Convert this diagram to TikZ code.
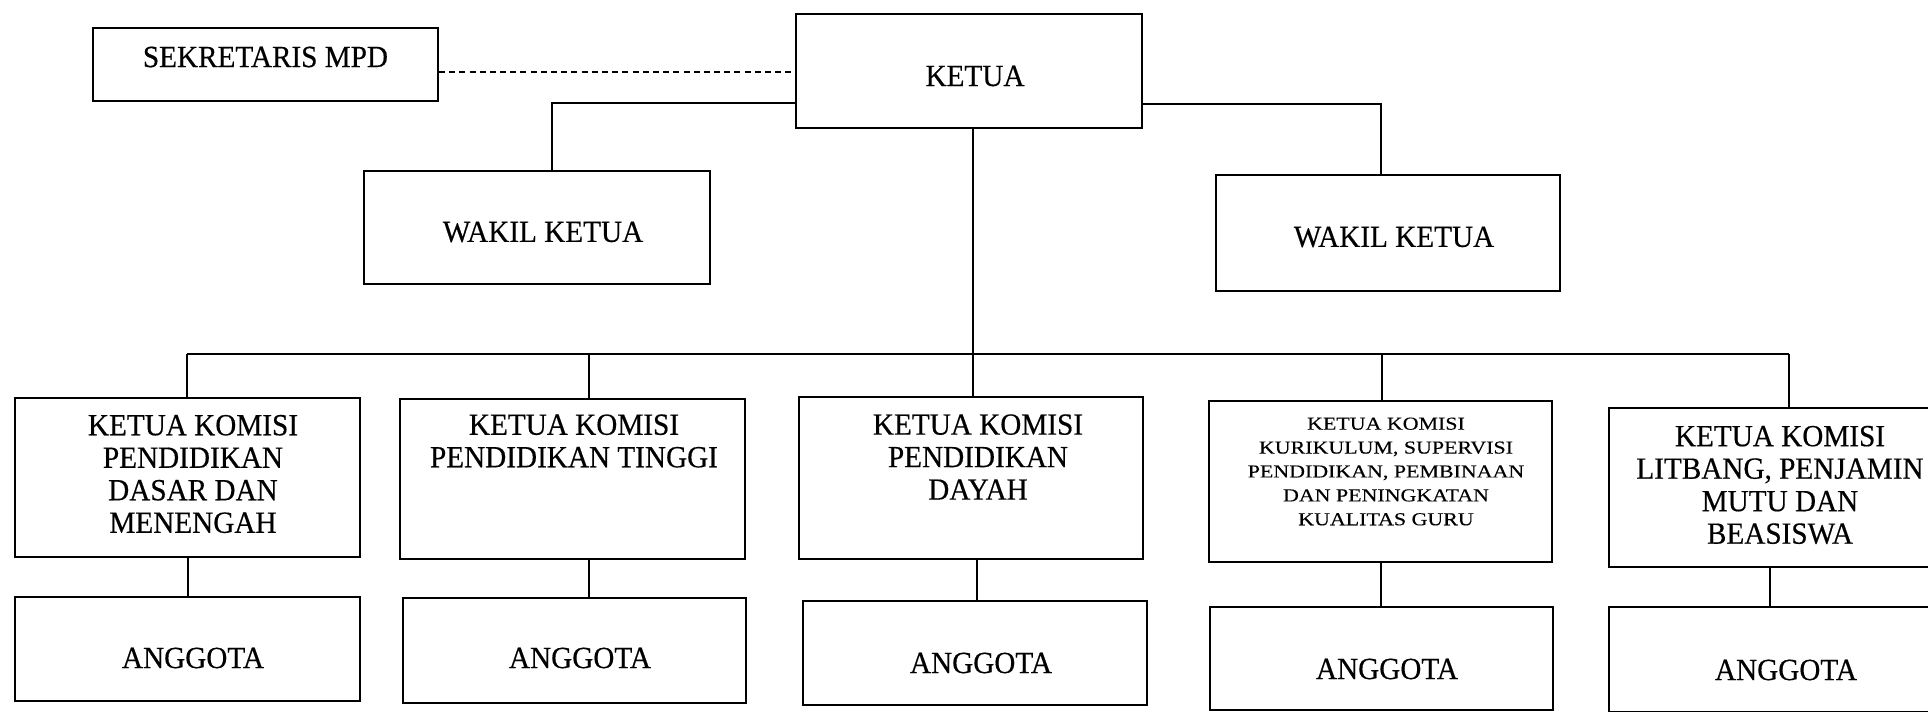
\documentclass[tikz,border=0pt]{standalone}
\usepackage{fontspec}
\setmainfont{Liberation Serif}[FakeStretch=0.95,FakeBold=0.4]
\newfontfamily\smallfnt{Liberation Serif}[FakeStretch=1.2,FakeBold=0.3]
\begin{document}
\begin{tikzpicture}[x=0.02cm,y=-0.02cm,
  bx/.style 2 args={draw, line width=1.1pt, inner sep=0pt, minimum width=#1*0.02cm, minimum height=#2*0.02cm},
  txt/.style={font=\fontsize{17.5}{18.5}\selectfont, align=center, inner sep=0pt},
  smalltxt/.style={font=\smallfnt\fontsize{10.4}{13.6}\selectfont, align=center, inner sep=0pt},
  link/.style={line width=1.1pt},
  dlink/.style={line width=1.1pt, dash pattern=on 3.4pt off 2.4pt}]
\useasboundingbox (0,0) rectangle (1928,711);
% top level
\node[bx={345}{73}] (sek) at (265.5,64.5) {};
\node[txt] (tsek) at (265.5,57) {SEKRETARIS MPD};
\node[bx={346}{114}] (ketua) at (969,71) {};
\node[txt] (tketua) at (975,76) {KETUA};
\node[bx={346}{113}] (wk1) at (537,227.5) {};
\node[txt] (twk1) at (543,232) {WAKIL KETUA};
\node[bx={344}{116}] (wk2) at (1388,233) {};
\node[txt] (twk2) at (1394,237) {WAKIL KETUA};
% commissions
\node[bx={345}{159}] (k1) at (187.5,477.5) {};
\node[txt] (tk1) at (193,474) {KETUA KOMISI\\PENDIDIKAN\\DASAR DAN\\MENENGAH};
\node[bx={345}{160}] (k2) at (572.5,479) {};
\node[txt] (tk2) at (574,441) {KETUA KOMISI\\PENDIDIKAN TINGGI};
\node[bx={344}{162}] (k3) at (971,478) {};
\node[txt] (tk3) at (978,457) {KETUA KOMISI\\PENDIDIKAN\\DAYAH};
\node[bx={343}{161}] (k4) at (1380.5,481.5) {};
\node[smalltxt] (tk4) at (1386,471.5) {KETUA KOMISI\\KURIKULUM, SUPERVISI\\PENDIDIKAN, PEMBINAAN\\DAN PENINGKATAN\\KUALITAS GURU};
\node[bx={340}{159}] (k5) at (1779,487.5) {};
\node[txt] (tk5) at (1780,485) {KETUA KOMISI\\LITBANG, PENJAMIN\\MUTU DAN\\BEASISWA};
% members
\node[bx={345}{104}] (a1) at (187.5,649) {};
\node[txt] (ta1) at (193,658) {ANGGOTA};
\node[bx={343}{105}] (a2) at (574.5,650.5) {};
\node[txt] (ta2) at (580,658) {ANGGOTA};
\node[bx={344}{104}] (a3) at (975,653) {};
\node[txt] (ta3) at (981,663) {ANGGOTA};
\node[bx={343}{103}] (a4) at (1381.5,658.5) {};
\node[txt] (ta4) at (1387,669) {ANGGOTA};
\node[bx={340}{105}] (a5) at (1779,659.5) {};
\node[txt] (ta5) at (1786,670) {ANGGOTA};
% junction coordinates
\coordinate (j1) at (552,103);
\coordinate (j2) at (1381,104);
\coordinate (jd) at (973,72);
\coordinate (busL) at (187,354);
\coordinate (busR) at (1789,354);
\coordinate (jm) at (973,354);
% connectors
\draw[dlink] (sek.east |- jd) -- (ketua.west |- jd);
\draw[link] (ketua.west |- j1) -| (wk1.north -| j1);
\draw[link] (ketua.east |- j2) -| (wk2.north -| j2);
\draw[link] (ketua.south -| jm) -- (jm);
\draw[link] (busL) -- (busR);
\draw[link] (busL) -- (k1.north -| busL);
\draw[link] (busL -| 589,0) -- (k2.north -| 589,0);
\draw[link] (jm) -- (k3.north -| jm);
\draw[link] (busL -| 1382,0) -- (k4.north -| 1382,0);
\draw[link] (busR) -- (k5.north -| busR);
\draw[link] (k1.south -| 188,0) -- (a1.north -| 188,0);
\draw[link] (k2.south -| 589,0) -- (a2.north -| 589,0);
\draw[link] (k3.south -| 977,0) -- (a3.north -| 977,0);
\draw[link] (k4.south -| 1381,0) -- (a4.north -| 1381,0);
\draw[link] (k5.south -| 1770,0) -- (a5.north -| 1770,0);
\end{tikzpicture}
\end{document}
